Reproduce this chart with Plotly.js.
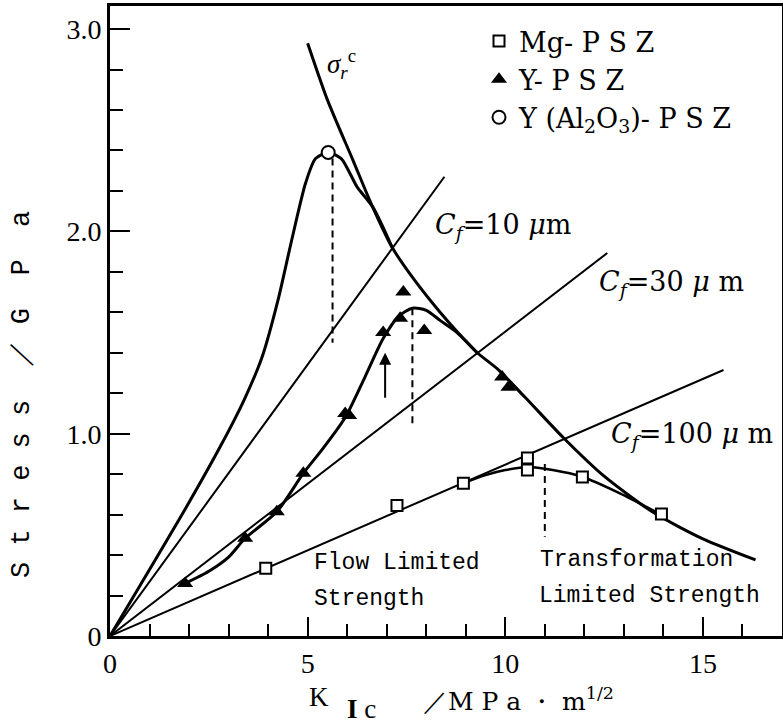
<!DOCTYPE html>
<html>
<head>
<meta charset="utf-8">
<script src="https://cdn.plot.ly/plotly-3.0.1.min.js"></script>
<style>html,body{margin:0;padding:0;background:#fff;}#chart{width:783px;height:725px;}</style>
</head>
<body>
<div id="chart"></div>
<script>
// ---- data ----
// transformation-limited strength curve (sigma_r^c)
const sigmaK = [5.0, 5.5, 6.15, 6.6, 7.14, 7.7, 8.35, 8.8, 9.29, 9.8, 10.5, 11.47, 12.5, 13.75, 15.0, 16.33];
const sigmaS = [2.93, 2.65, 2.35, 2.14, 1.92, 1.76, 1.60, 1.50, 1.40, 1.32, 1.18, 0.98, 0.79, 0.61, 0.48, 0.376];

// flaw-size lines from the origin
const cf10K = [0, 8.46],  cf10S = [0, 2.27];
const cf30K = [0, 12.58], cf30S = [0, 1.893];
const cf100K = [0, 15.52], cf100S = [0, 1.315];

// Y(Al2O3)-PSZ curve and point
const alCurveK = [0, 1.94, 2.8, 3.4, 3.85, 4.25, 4.6, 4.95, 5.2, 5.52, 5.85, 6.25, 6.65, 7.14];
const alCurveS = [0, 0.64, 0.94, 1.17, 1.38, 1.66, 1.96, 2.24, 2.36, 2.39, 2.36, 2.22, 2.12, 1.92];
const alPtK = [5.52];
const alPtS = [2.39];

// Y-PSZ curve and points
const yCurveK = [1.9, 2.5, 3.0, 3.42, 4.22, 4.89, 5.4, 5.95, 6.45, 6.91, 7.3, 7.65, 8.0, 8.35, 8.78, 9.29];
const yCurveS = [0.26, 0.32, 0.39, 0.483, 0.614, 0.804, 0.93, 1.08, 1.28, 1.47, 1.58, 1.62, 1.61, 1.56, 1.50, 1.40];
const yPtK = [1.9, 3.42, 4.22, 4.89, 5.95, 6.05, 6.91, 7.34, 7.42, 7.95, 9.92, 10.08];
const yPtS = [0.26, 0.483, 0.614, 0.804, 1.10, 1.09, 1.50, 1.57, 1.70, 1.51, 1.28, 1.23];

// Mg-PSZ curve and points
const mgCurveK = [8.94, 9.5, 10.0, 10.57, 11.2, 11.94, 12.9, 13.94];
const mgCurveS = [0.755, 0.795, 0.82, 0.835, 0.82, 0.787, 0.705, 0.60];
const mgPtK = [3.94, 7.26, 8.94, 10.56, 10.56, 11.95, 13.95];
const mgPtS = [0.335, 0.645, 0.755, 0.88, 0.82, 0.786, 0.603];

// dashed markers of the maxima
const dashAlK = [5.63, 5.63], dashAlS = [2.36, 1.45];
const dashYK = [7.65, 7.65],  dashYS = [1.62, 1.05];
const dashMgK = [11.0, 11.0], dashMgS = [0.85, 0.49];

// upward arrow
const arrowK = [6.96, 6.96], arrowS = [1.17, 1.40];

// ticks
const xTickVals = [0, 5, 10, 15];
const xTickText = ['0', '5', '10', '15'];
const yTickVals = [0, 1, 2, 3];
const yTickText = ['0', '1.0', '2.0', '3.0'];

const seriesNames = ['Mg- P S Z', 'Y- P S Z', 'Y (Al<sub>2</sub>O<sub>3</sub>)- P S Z'];

// ---- traces ----
const black = '#000';
function line(x, y, w, dash, shape) {
  return {x: x, y: y, mode: 'lines', showlegend: false, hoverinfo: 'skip',
          line: {color: black, width: w, dash: dash || 'solid', shape: shape || 'linear', smoothing: 0.7}};
}
const traces = [
  line(cf10K, cf10S, 2),
  line(cf30K, cf30S, 2),
  line(cf100K, cf100S, 2),
  line(sigmaK, sigmaS, 3, 'solid', 'spline'),
  line(alCurveK, alCurveS, 3, 'solid', 'spline'),
  line(yCurveK, yCurveS, 3, 'solid', 'spline'),
  line(mgCurveK, mgCurveS, 2.5, 'solid', 'spline'),
  line(dashAlK, dashAlS, 2, '7px,5px'),
  line(dashYK, dashYS, 2, '7px,5px'),
  line(dashMgK, dashMgS, 2, '7px,5px'),
  {x: mgPtK, y: mgPtS, mode: 'markers', name: seriesNames[0], hoverinfo: 'skip',
   marker: {symbol: 'square', size: 11, color: '#fff', line: {color: black, width: 2}}},
  {x: yPtK, y: yPtS, mode: 'markers', name: seriesNames[1], hoverinfo: 'skip',
   marker: {symbol: 'triangle-up', size: 14, color: black, line: {color: black, width: 0}}},
  {x: alPtK, y: alPtS, mode: 'markers', name: seriesNames[2], hoverinfo: 'skip',
   marker: {symbol: 'circle', size: 13, color: '#fff', line: {color: black, width: 2}}}
];

// ---- layout ----
const W = 783, H = 725, L = 110, R = 1, T = 6, B = 89;
const pw = W - L - R, ph = H - T - B;
function px(xp) { return (xp - L) / pw; }
function py(yp) { return (H - B - yp) / ph; }

const serif = 'Liberation Serif, Times New Roman, serif';
const wserif = 'DejaVu Serif, serif';
const mono = 'Liberation Mono, Courier New, monospace';

const annotations = [
  {x: px(341), y: py(64), text: '<i>σ</i><sub><i>r</i></sub><sup>c</sup>', font: {family: serif, size: 27}},
  {x: px(503), y: py(227), text: '<i>C</i><sub><i>f</i></sub>=10 <i>μ</i>m', font: {family: wserif, size: 27}},
  {x: px(671), y: py(283), text: '<i>C</i><sub><i>f</i></sub>=30 <i>μ</i> m', font: {family: wserif, size: 27}},
  {x: px(692), y: py(435), text: '<i>C</i><sub><i>f</i></sub>=100 <i>μ</i> m', font: {family: wserif, size: 27}},
  {x: px(312), y: py(563), text: 'Flow Limited', xanchor: 'left', font: {family: mono, size: 23}},
  {x: px(312), y: py(599), text: 'Strength', xanchor: 'left', font: {family: mono, size: 23}},
  {x: px(538), y: py(560), text: 'Transformation', xanchor: 'left', font: {family: mono, size: 23}},
  {x: px(537), y: py(596), text: 'Limited Strength', xanchor: 'left', font: {family: mono, size: 23}},
  {x: px(319), y: py(697), text: 'K', font: {family: serif, size: 27}},
  {x: px(361), y: py(709), text: '<b>I</b> c', font: {family: serif, size: 27}},
  {x: px(421), y: py(699), text: '／M P a ・ m<sup>1/2</sup>', xanchor: 'left', font: {family: wserif, size: 25}},
  {x: px(22), y: py(395), text: 'S t r e s s  ／ G  P  a', textangle: -90, font: {family: mono, size: 27}},
  {x: arrowK[1], y: arrowS[1], ax: arrowK[0], ay: arrowS[0], xref: 'x', yref: 'y', axref: 'x', ayref: 'y',
   showarrow: true, arrowhead: 2, arrowsize: 1.2, arrowwidth: 2, arrowcolor: black, text: ''}
].map(a => Object.assign({xref: 'paper', yref: 'paper', showarrow: false, xanchor: 'center', yanchor: 'middle'}, a));
annotations.forEach(a => { if (a.font) a.font.color = black; });

const layout = {
  width: W, height: H,
  margin: {l: L, r: R, t: T, b: B},
  paper_bgcolor: '#fff', plot_bgcolor: '#fff',
  font: {family: serif, color: black},
  showlegend: true,
  legend: {x: px(479), y: py(17), xanchor: 'left', yanchor: 'top', bgcolor: 'rgba(0,0,0,0)',
           font: {family: wserif, size: 27, color: black}, borderwidth: 0, tracegroupgap: 0},
  xaxis: {range: [0, 17], showgrid: false, zeroline: false, showline: true, linewidth: 3, linecolor: black, mirror: true,
          ticks: 'inside', ticklen: 19, tickwidth: 2, tickcolor: black,
          tickvals: xTickVals, ticktext: xTickText, tickfont: {family: serif, size: 28, color: black},
          minor: {ticks: 'inside', dtick: 1, ticklen: 12, tickwidth: 2, tickcolor: black, showgrid: false}},
  yaxis: {range: [0, 3.114], showgrid: false, zeroline: false, showline: true, linewidth: 3, linecolor: black, mirror: true,
          ticks: 'inside', ticklen: 20, tickwidth: 2, tickcolor: black,
          tickvals: yTickVals, ticktext: yTickText, tickfont: {family: serif, size: 28, color: black},
          minor: {ticks: 'inside', dtick: 0.2, ticklen: 13, tickwidth: 2, tickcolor: black, showgrid: false}},
  annotations: annotations
};

Plotly.newPlot('chart', traces, layout, {displayModeBar: false, staticPlot: true});
</script>
</body>
</html>
